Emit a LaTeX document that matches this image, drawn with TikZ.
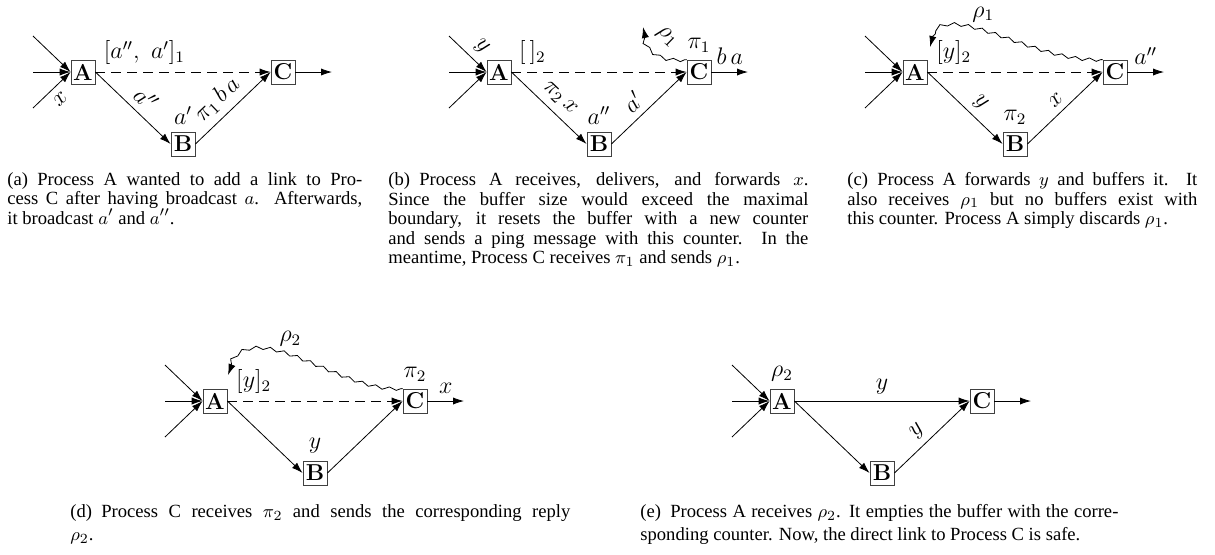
\documentclass[tikz,border=0pt]{standalone}
\usepackage[no-math]{fontspec}
\newfontfamily\capfont{Liberation Serif}
\usetikzlibrary{positioning,arrows.meta,decorations.pathmorphing}

\tikzset{
  proc/.style={draw=black!75,minimum size=12pt,inner sep=0pt,font=\fontsize{11.5}{14}\selectfont\bfseries},
  msg/.style={-{Latex[length=5.5pt,width=3.6pt]}},
  direct/.style={msg,dash pattern=on 5pt off 3pt},
  ping/.style={msg,decorate,decoration={snake,amplitude=0.8pt,segment length=7pt,pre length=1pt,post length=4pt}},
  capt/.style={anchor=north west,inner sep=0pt,align=justify,font=\capfont\fontsize{9.3}{9.75}\selectfont},
  captlow/.style={capt,font=\capfont\fontsize{9.3}{11.5}\selectfont}
}

\begin{document}
\begin{tikzpicture}[x=0.5pt,y=-0.5pt,every node/.style={font=\fontsize{11.5}{14}\selectfont}]
  \useasboundingbox (0,0) rectangle (1215,554);
  % the three processes of every step
  \foreach \p/\ax/\ay in {a/83/72, b/499/72, c/915/72, d/215/401, e/782/401} {
    \node[proc] (\p A) at (\ax,\ay) {A};
    \node[proc] (\p B) at (\ax+100,\ay+72) {B};
    \node[proc] (\p C) at (\ax+200,\ay) {C};
    \coordinate (\p in1) at (\ax-50,\ay-36);
    \coordinate (\p in2) at (\ax-50,\ay);
    \coordinate (\p in3) at (\ax-50,\ay+36);
    \coordinate (\p out) at (\ax+249,\ay);
    \draw[msg] (\p in1) -- (\p A.west);
    \draw[msg] (\p in2) -- (\p A.west);
    \draw[msg] (\p in3) -- (\p A.west);
    \draw[msg] (\p C.east) -- (\p out);
  }

  % (a)
  \draw[direct] (aA.east) -- node[pos=0.28,above] {$[a'',\ a']_1$} (aC.west);
  \draw[msg] (aA.east) -- node[pos=0.53,sloped,above] {$a''$} (aB.west);
  \draw[msg] (aB.east) -- node[pos=0.45,sloped,above] {$\pi_1\,b\,a$} (aC.west);
  \node[above=0pt of aB] (aBq) {$a'$};
  \path (ain3) -- node[sloped,below] {$x$} (aA.west);

  % (b)
  \draw[direct] (bA.east) -- node[pos=0.12,above] {$[\,]_2$} (bC.west);
  \draw[msg] (bA.east) -- node[pos=0.51,sloped,above] {$\pi_2\,x$} (bB.west);
  \draw[msg] (bB.east) -- node[pos=0.43,sloped,above] {$a'$} (bC.west);
  \node[above=0pt of bB] (bBq) {$a''$};
  \node[above=0pt of bC] (bCq) {$\pi_1$};
  \path (bC.east) -- node[above] {$b\,a$} (bout);
  \path (bin1) -- node[pos=0.6,sloped,above] {$y$} (bA.west);
  \coordinate (bpong) at (643,27);
  \draw[ping] (bC.north west) .. controls (660,62) and (646,48) .. (bpong)
    node[pos=0.55,sloped,above=2pt] {$\rho_1$};

  % (c)
  \draw[direct] (cA.east) -- node[pos=0.15,above] {$[y]_2$} (cC.west);
  \draw[msg] (cA.east) -- node[pos=0.57,sloped,above] {$y$} (cB.west);
  \draw[msg] (cB.east) -- node[pos=0.49,sloped,above] {$x$} (cC.west);
  \node[above=0pt of cB] (cBq) {$\pi_2$};
  \path (cC.east) -- node[above] {$a''$} (cout);
  \coordinate (cpong) at (930,47);
  \draw[ping] (cC.north west) .. controls (1030,62) and (940,-12) .. (cpong)
    node[pos=0.55,above] {$\rho_1$};

  % (d)
  \draw[direct] (dA.east) -- node[pos=0.15,above] {$[y]_2$} (dC.west);
  \draw[msg] (dA.east) -- (dB.west);
  \draw[msg] (dB.east) -- (dC.west);
  \node[above=0pt of dB] (dBq) {$y$};
  \node[above=0pt of dC] (dCq) {$\pi_2$};
  \path (dC.east) -- node[above] {$x$} (dout);
  \coordinate (dpong) at (228,375);
  \draw[ping] (dC.north west) .. controls (340,392) and (250,305) .. (dpong)
    node[pos=0.55,above] {$\rho_2$};

  % (e)
  \draw[msg] (eA.east) -- node[above] {$y$} (eC.west);
  \draw[msg] (eA.east) -- (eB.west);
  \draw[msg] (eB.east) -- node[pos=0.44,sloped,above] {$y$} (eC.west);
  \node[above=0pt of eA] (eAq) {$\rho_2$};

  % captions
  \node[capt,text width=177.5pt] (acap) at (7,172) {(a)\enskip Process A wanted to add a link to Pro-\linebreak
    cess C after having broadcast $a$. Afterwards,\linebreak it broadcast $a'$ and $a''$.};
  \node[capt,text width=210pt] (bcap) at (388,172) {(b)\enskip Process A receives, delivers, and forwards $x$.\linebreak
    Since the buffer size would exceed the maximal\linebreak boundary, it resets the buffer with a new counter\linebreak
    and sends a ping message with this counter. In the\linebreak meantime, Process C receives $\pi_1$ and sends $\rho_1$.};
  \node[capt,text width=175pt] (ccap) at (847,172) {(c)\enskip Process A forwards $y$ and buffers it. It\linebreak
    also receives $\rho_1$ but no buffers exist with\linebreak this counter. Process A simply discards $\rho_1$.};
  \node[captlow,text width=250pt] (dcap) at (70,504) {(d)\enskip Process C receives $\pi_2$ and sends the corresponding reply\linebreak $\rho_2$.};
  \node[captlow,text width=239pt] (ecap) at (640,504) {(e)\enskip Process A receives $\rho_2$. It empties the buffer with the corre-\linebreak
    sponding counter. Now, the direct link to Process C is safe.};
\end{tikzpicture}
\end{document}
